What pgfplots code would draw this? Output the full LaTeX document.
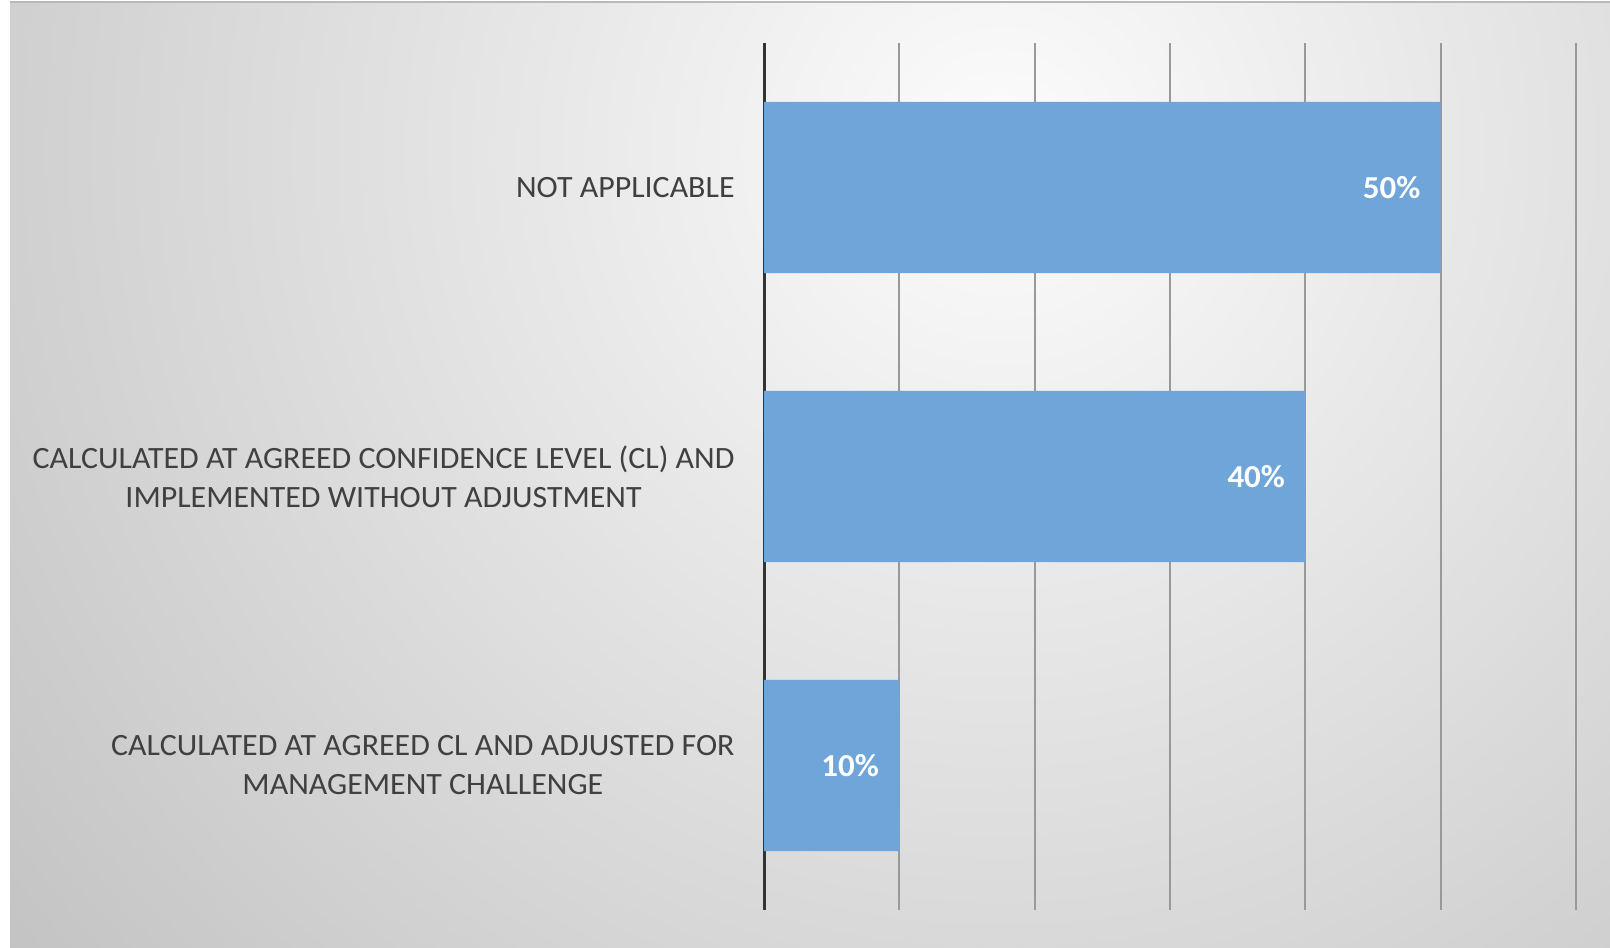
\documentclass[border=0pt]{standalone}
\usepackage{pgfplots}
\pgfplotsset{compat=1.18}
\usepackage{fontspec}
\setmainfont{Carlito}[FakeStretch=1.03]
\definecolor{barblue}{RGB}{111,165,216}
\definecolor{labgray}{HTML}{404040}
\definecolor{bgin}{HTML}{FCFCFC}
\definecolor{bgout}{HTML}{C3C3C3}
\pgfdeclareradialshading{bgshade}{\pgfpoint{0bp}{0bp}}{color(0bp)=(bgin); color(25bp)=(bgout); color(50bp)=(bgout)}
\begin{document}
\begin{tikzpicture}
\useasboundingbox (0,0) rectangle (805pt,473.5pt);
\fill[white] (0,0) rectangle (805pt,473.5pt);
\begin{scope}
\clip (5pt,0) rectangle (805pt,472pt);
\fill[bgout] (5pt,0) rectangle (805pt,472pt);
\shade[shading=bgshade] (500pt,398.5pt) circle (640pt);
\end{scope}
\draw[gray!55, line width=1pt] (5pt,472.5pt) -- (805pt,472.5pt);
\begin{axis}[
  at={(382pt,18.5pt)}, anchor=south west,
  width=406pt, height=433.5pt, scale only axis,
  xbar, xmin=0, xmax=60, ymin=-0.5, ymax=2.5,
  bar width=0.593,
  ytick={0,1,2},
  yticklabels={{CALCULATED AT AGREED CL AND ADJUSTED FOR\\MANAGEMENT CHALLENGE},{CALCULATED AT AGREED CONFIDENCE LEVEL (CL) AND\\IMPLEMENTED WITHOUT ADJUSTMENT},{NOT APPLICABLE}},
  xtick={10,20,30,40,50,60},
  xticklabels={},
  xmajorgrids,
  major grid style={color=gray!80, line width=1pt},
  extra x ticks={0}, extra x tick labels={},
  extra x tick style={major grid style={color=black!80, line width=1.5pt}},
  axis line style={draw=none},
  major tick length=0pt,
  yticklabel style={align=center, inner sep=0pt, xshift=-14.5pt, font=\fontsize{15.5}{19.5}\selectfont, text=labgray},
  /pgf/number format/assume math mode=true,
  nodes near coords={\pgfmathprintnumber{\pgfplotspointmeta}\%},
  nodes near coords style={anchor=east, inner sep=0pt, xshift=-10pt, text=white, font=\bfseries\fontsize{16}{18}\selectfont},
]
\addplot[fill=barblue, draw=none] coordinates {(10,0) (40,1) (50,2)};
\end{axis}
\end{tikzpicture}
\end{document}
